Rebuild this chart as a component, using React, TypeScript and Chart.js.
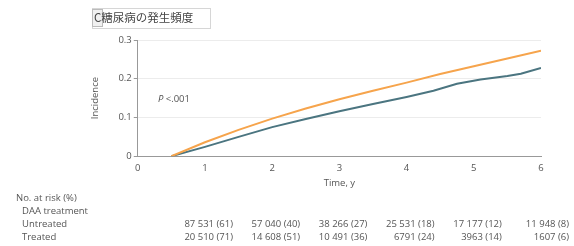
import React, { useEffect, useRef } from "react";
import { Chart, registerables } from "chart.js";

Chart.register(...registerables);

const untreatedTimes = [0.5, 1, 1.5, 2, 2.5, 3, 3.5, 4, 4.5, 5, 5.5, 6];
const untreatedIncidence = [0, 0.036, 0.068, 0.097, 0.123, 0.147, 0.169, 0.19, 0.212, 0.232, 0.252, 0.272];
const treatedTimes = [0.5, 1, 1.5, 2, 2.5, 3, 3.5, 4, 4.4, 4.75, 5.1, 5.5, 5.7, 6];
const treatedIncidence = [0, 0.024, 0.05, 0.075, 0.096, 0.116, 0.135, 0.153, 0.169, 0.187, 0.198, 0.207, 0.213, 0.228];

const riskTimes = [1, 2, 3, 4, 5, 6];
const untreatedAtRisk = ["87 531 (61)", "57 040 (40)", "38 266 (27)", "25 531 (18)", "17 177 (12)", "11 948 (8)"];
const treatedAtRisk = ["20 510 (71)", "14 608 (51)", "10 491 (36)", "6791 (24)", "3963 (14)", "1607 (6)"];

const titleText = "C糖尿病の発生頻度";
const FONT = "'Open Sans', 'Liberation Sans', sans-serif";
const TEXT_COLOR = "#555";

const annotatePlugin = {
  id: "annotate",
  afterDraw(chart: any) {
    const ctx = chart.ctx;
    const xs = chart.scales.x;
    const ys = chart.scales.y;
    ctx.save();
    // Title box
    ctx.strokeStyle = "#d6d6d6";
    ctx.lineWidth = 1;
    ctx.strokeRect(92.5, 8.5, 118, 20);
    ctx.fillStyle = "#f0f0f0";
    ctx.fillRect(93, 10, 9, 16);
    ctx.strokeStyle = "#bbb";
    ctx.strokeRect(92.5, 9.5, 10, 17);
    ctx.fillStyle = "#444";
    ctx.font = `11.5px 'Noto Sans CJK JP', sans-serif`;
    ctx.textBaseline = "middle";
    ctx.textAlign = "left";
    ctx.fillText(titleText, 94, 18);

    // P value
    const px = xs.getPixelForValue(0.3);
    const py = ys.getPixelForValue(0.147);
    ctx.font = `italic 9.5px ${FONT}`;
    ctx.fillStyle = TEXT_COLOR;
    ctx.fillText("P", px, py);
    const pw = ctx.measureText("P ").width;
    ctx.font = `9.5px ${FONT}`;
    ctx.fillText("<.001", px + pw, py);

    // Risk table
    ctx.font = `9.5px ${FONT}`;
    ctx.fillStyle = TEXT_COLOR;
    ctx.textAlign = "left";
    ctx.fillText("No. at risk (%)", 16, 198);
    ctx.fillText("DAA treatment", 22, 211);
    ctx.fillText("Untreated", 22, 224);
    ctx.fillText("Treated", 22, 237);
    ctx.textAlign = "right";
    riskTimes.forEach((t, i) => {
      const x = xs.getPixelForValue(t) + 28;
      ctx.fillText(untreatedAtRisk[i], x, 224);
      ctx.fillText(treatedAtRisk[i], x, 237);
    });
    ctx.restore();
  },
};

export default function App() {
  const ref = useRef<HTMLCanvasElement>(null);
  useEffect(() => {
    document.body.style.margin = "0";
    const chart = new Chart(ref.current!, {
      type: "line",
      data: {
        datasets: [
          {
            label: "Untreated",
            data: untreatedTimes.map((t, i) => ({ x: t, y: untreatedIncidence[i] })),
            borderColor: "#f6a44c",
            borderWidth: 2,
            pointRadius: 0,
            tension: 0,
          },
          {
            label: "Treated",
            data: treatedTimes.map((t, i) => ({ x: t, y: treatedIncidence[i] })),
            borderColor: "#4b7580",
            borderWidth: 2,
            pointRadius: 0,
            tension: 0,
          },
        ],
      },
      options: {
        animation: false,
        responsive: false,
        layout: { padding: { left: 90, right: 33, top: 40, bottom: 57 } },
        plugins: { legend: { display: false }, tooltip: { enabled: false }, title: { display: false } },
        scales: {
          x: {
            type: "linear",
            min: 0,
            max: 6,
            ticks: { stepSize: 1, color: TEXT_COLOR, font: { size: 9.5, family: FONT }, padding: 2 },
            grid: { display: false, drawTicks: true, tickLength: 4 },
            border: { color: "#999", width: 1 },
            title: { display: true, text: "Time, y", color: TEXT_COLOR, font: { size: 9.5, family: FONT }, padding: { top: 2, bottom: 0 } },
          },
          y: {
            min: 0,
            max: 0.3,
            ticks: { stepSize: 0.1, color: TEXT_COLOR, font: { size: 9.5, family: FONT }, padding: 2, callback: (v: any) => (v === 0 ? "0" : Number(v).toFixed(1)) },
            grid: { color: (c: any) => (c.tick && c.tick.value === 0 ? "rgba(0,0,0,0)" : "#ececec"), tickLength: 4, tickColor: "#999" },
            border: { color: "#999", width: 1 },
            title: { display: true, text: "Incidence", color: TEXT_COLOR, font: { size: 9.5, family: FONT }, padding: { top: 0, bottom: 15 } },
          },
        },
      },
      plugins: [annotatePlugin],
    });
    return () => chart.destroy();
  }, []);
  return (
    <div style={{ position: "fixed", left: 0, top: 0, width: 574, height: 246, background: "#fff" }}>
      <canvas ref={ref} width={574} height={246} />
    </div>
  );
}
